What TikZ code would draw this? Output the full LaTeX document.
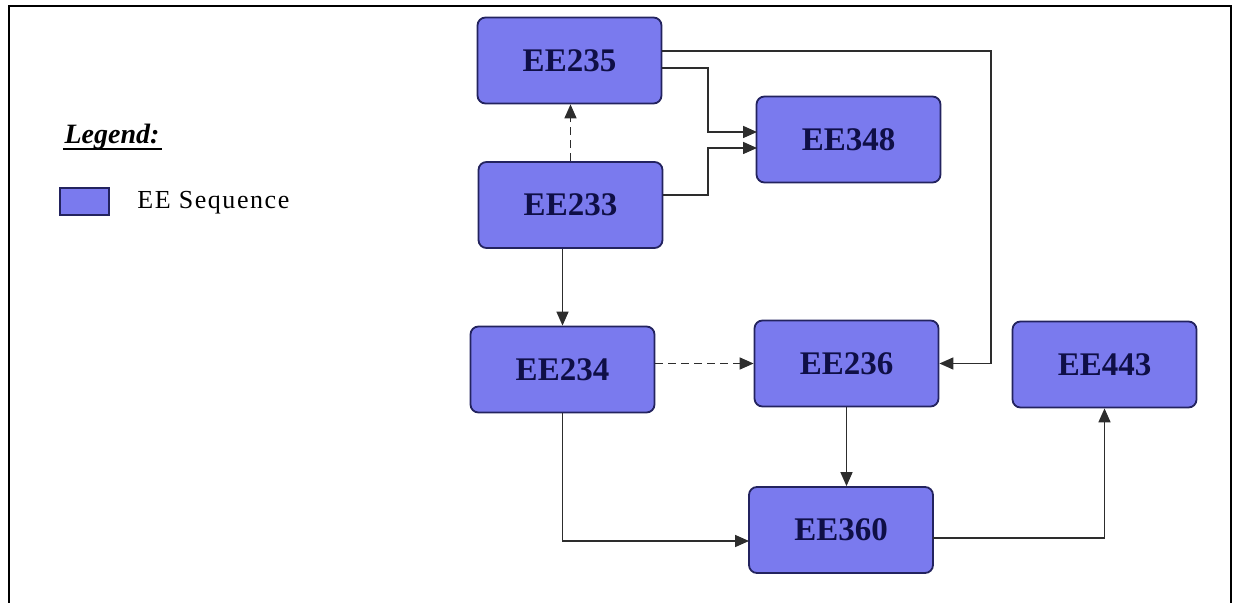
\documentclass[tikz,border=0pt]{standalone}
\usepackage{fontspec}
\setmainfont{Liberation Serif}
\usetikzlibrary{arrows.meta}

\definecolor{boxblue}{RGB}{122,122,238}
\definecolor{boxline}{RGB}{35,35,95}
\definecolor{boxtext}{RGB}{15,15,70}
\definecolor{wire}{RGB}{45,45,45}

\tikzset{
  course/.style={draw=boxline, line width=0.9pt, fill=boxblue, rounded corners=4pt,
    minimum width=92pt, minimum height=43pt, inner sep=0pt,
    font=\fontsize{16.5}{18}\selectfont\bfseries, text=boxtext},
  link/.style={draw=wire, line width=0.8pt, -{Triangle[length=7pt,width=6pt]}},
  optlink/.style={link, dash pattern=on 4pt off 2.5pt}
}

\begin{document}
\begin{tikzpicture}[x=0.5pt,y=-0.5pt]
        \useasboundingbox (0,0) rectangle (1235,603);

        % Frame (open at the bottom)
        \draw[line width=1pt] (9,603) -- (9,6) -- (1231,6) -- (1231,603);

        % Legend
        \node[inner sep=0pt, font=\fontsize{14}{16}\selectfont\bfseries\itshape] (legend) at (112,137) {Legend:};
        \draw[line width=1pt] (63,149) -- (162,149);
        \node[draw=boxline, line width=0.6pt, fill=boxblue, minimum width=24.5pt, minimum height=13.5pt, inner sep=0pt] (swatch) at (84.5,201.5) {};
        \node[anchor=west, inner sep=0pt, font=\fontsize{13}{15}\selectfont\addfontfeature{LetterSpace=6}] (seqlabel) at (137,203) {EE Sequence};

        % Courses
        \node[course] (EE235) at (569.5,60.5) {EE235};
        \node[course] (EE348) at (848.5,139.5) {EE348};
        \node[course] (EE233) at (570.5,205) {EE233};
        \node[course] (EE234) at (562.5,369.5) {EE234};
        \node[course] (EE236) at (846.5,363.5) {EE236};
        \node[course] (EE443) at (1104.5,364.5) {EE443};
        \node[course] (EE360) at (841,530) {EE360};

        % Bends of the connectors
        \coordinate (outerR) at (991,51);
        \coordinate (splitA) at (708,68);
        \coordinate (splitB) at (708,195);
        \coordinate (in348a) at (757,132);
        \coordinate (in348b) at (757,148);
        \coordinate (in360) at (749,541);
        \coordinate (out360) at (933,538);

        % EE235 -> EE236, round the right side
        \draw[link] (EE235.east |- outerR) -- (outerR) |- (EE236.east);

        % Into EE348
        \draw[link] (EE235.east |- splitA) -- (splitA) |- (in348a);
        \draw[link] (EE233.east |- splitB) -- (splitB) |- (in348b);

        % Dashed links
        \draw[optlink] (EE233.north) -- (EE233.north |- EE235.south);
        \draw[optlink] (EE234.east |- EE236.west) -- (EE236.west);

        % Down the chain
        \draw[link] (EE234.north |- EE233.south) -- (EE234.north);
        \draw[link] (EE234.south) |- (in360);
        \draw[link] (EE236.south) -- (EE236.south |- EE360.north);
        \draw[link] (out360) -| (EE443.south);
\end{tikzpicture}
\end{document}
